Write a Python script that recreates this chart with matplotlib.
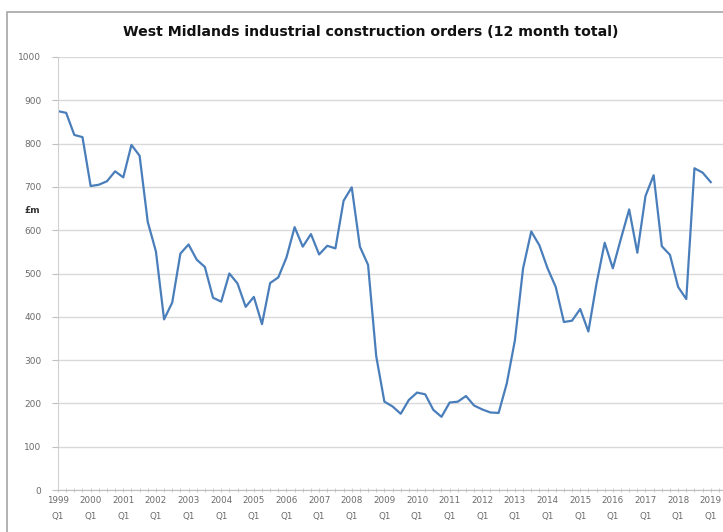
"""West Midlands industrial construction orders, 12 month rolling total"""

import matplotlib.pyplot as plt
from matplotlib.patches import Rectangle
import numpy as np

# quarterly values, 1999 Q1 .. 2019 Q1 (£m)
orders = [
    875, 871, 820, 815,   # 1999
    702, 705, 713, 736,   # 2000
    722, 797, 772, 619,   # 2001
    551, 394, 433, 546,   # 2002
    567, 532, 515, 444,   # 2003
    435, 500, 477, 423,   # 2004
    446, 383, 478, 491,   # 2005
    537, 607, 562, 591,   # 2006
    544, 564, 558, 668,   # 2007
    699, 562, 520, 309,   # 2008
    204, 193, 176, 208,   # 2009
    225, 221, 185, 169,   # 2010
    202, 204, 217, 195,   # 2011
    186, 179, 178, 246,   # 2012
    346, 512, 597, 565,   # 2013
    512, 469, 388, 391,   # 2014
    418, 366, 477, 571,   # 2015
    512, 581, 648, 548,   # 2016
    679, 727, 563, 543,   # 2017
    469, 441, 743, 733,   # 2018
    711,                  # 2019
]
years = list(range(1999, 2020))
year_labels = [f"{y}\nQ1" for y in years]
y_ticks = list(range(0, 1001, 100))

LINE = "#4a7ebb"
GRID = "#d9d9d9"
INK = "#6b6b6b"

fig = plt.figure(figsize=(7.23, 5.32), dpi=100)
fig.patches.append(Rectangle((7 / 723, -0.05), 1.1, 1 - 12 / 532 + 0.05,
                             transform=fig.transFigure, fill=False,
                             edgecolor="#a6a6a6", linewidth=1.2))

ax = fig.add_axes([58 / 723, 1 - 490 / 532, 1 - 58 / 723, (490 - 57) / 532])

q = np.arange(len(orders))
ax.plot(q, orders, color=LINE, lw=1.6, solid_joinstyle="round")

ax.set_ylim(0, 1000)
ax.set_xlim(0, 81.5)
ax.set_yticks(y_ticks)
ax.set_xticks([4 * i for i in range(len(years))])
ax.set_xticklabels(year_labels, fontsize=6.3, color=INK, linespacing=1.9)
ax.set_xticks(np.arange(0, 82), minor=True)
ax.tick_params(axis="y", labelsize=6.5, labelcolor=INK, color="#bfbfbf",
               length=4, width=0.8, pad=8)
ax.tick_params(axis="x", which="both", color="#bfbfbf", length=3, width=0.6,
               direction="inout", pad=3)
ax.grid(axis="y", color=GRID, lw=1)
ax.set_axisbelow(True)

for side in ("top", "right"):
    ax.spines[side].set_visible(False)
ax.spines["left"].set_color("#d0d0d0")
ax.spines["bottom"].set_color("#bfbfbf")

ax.text(-0.038, 0.645, "£m", transform=ax.transAxes, fontsize=6.5,
        fontweight="bold", color="#333333", ha="center", va="center")

fig.text(371 / 723, 1 - 32 / 532,
         "West Midlands industrial construction orders (12 month total)",
         ha="center", va="center", fontsize=10.2, fontweight="bold",
         color="#111111")

fig.savefig("out.png", dpi=100)
